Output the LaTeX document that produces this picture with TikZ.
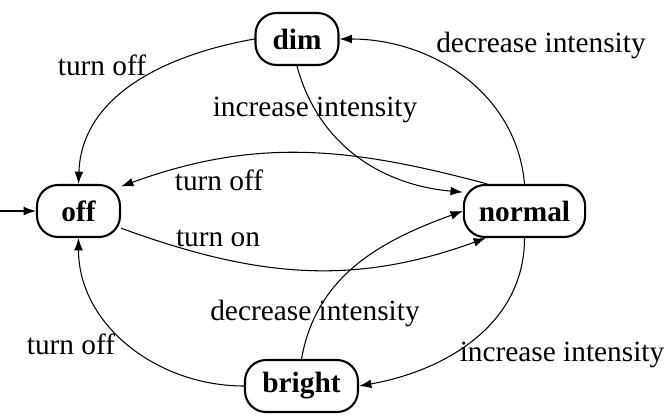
\documentclass[tikz,border=0pt]{standalone}
\usepackage{fontspec}
\setmainfont{Liberation Serif}
\usepackage{tikz}
\usetikzlibrary{arrows.meta}
\newcommand{\lampsize}{\fontsize{16.7pt}{20pt}\selectfont}
\tikzset{state/.style = {draw, line width = 1.2pt, rounded corners = 12pt,
                         minimum height = 1.04cm, minimum width = 1.66cm,
                         inner xsep = 0.3cm, fill = white, font = \lampsize\bfseries},
         trans/.style = {line width = 0.6pt, -{Latex[length = 7pt, width = 5pt]}},
         lbl/.style = {font = \lampsize, inner sep = 1pt}}

\begin{document}
\begin{tikzpicture}[x = 0.02cm, y = 0.02cm, font = \lampsize]
\useasboundingbox (0, 0) rectangle (669, 417);
\draw (297, 378) node[state] (dim) {dim};
\draw (78.5, 206) node[state] (off) {off};
\draw (524.5, 206) node[state, minimum width = 2.3cm] (normal) {normal};
\draw (301.5, 31) node[state, minimum width = 2.26cm] (bright) {bright};
\coordinate (start) at (0, 206);
\node[lbl] (l1) at (102, 352) {turn off};
\node[lbl] (l2) at (541, 372) {decrease intensity};
\node[lbl] (l3) at (315, 307) {increase intensity};
\node[lbl] (l4) at (219, 237) {turn off};
\node[lbl] (l5) at (218, 179) {turn on};
\node[lbl] (l6) at (315, 104) {decrease intensity};
\node[lbl] (l7) at (71, 73) {turn off};
\node[lbl] (l8) at (562, 62) {increase intensity};
\draw [trans] (start) to (off);
\draw [trans, out = 190, in = 88] (dim.west) to (off.north);
\draw [trans, out = 95, in = 0] (normal.north) to (dim.east);
\draw [trans, out = -75, in = 175] (dim.south) to (normal.163);
\draw [trans, out = 165, in = 20] (normal.144) to (off.30);
\draw [trans, out = -20, in = -160] (off.-22) to (normal.215);
\draw [trans, out = 80, in = 200] (bright.north) to (normal.west);
\draw [trans, out = -90, in = 10] (normal.south) to (bright.east);
\draw [trans, out = 180, in = -90] (bright.west) to (off.south);
\end{tikzpicture}
\end{document}
